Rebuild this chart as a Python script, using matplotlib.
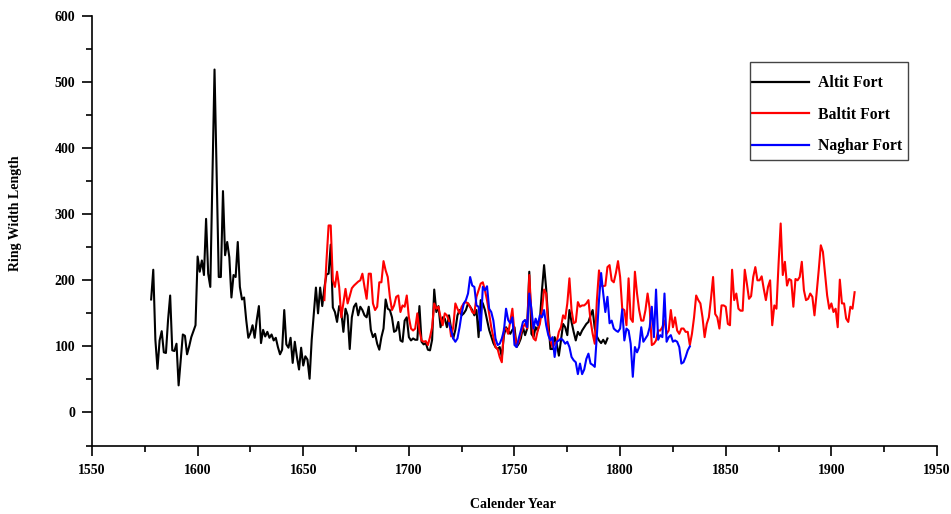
import numpy as np
import matplotlib
matplotlib.use("Agg")
import matplotlib.pyplot as plt
from matplotlib.ticker import MultipleLocator
from matplotlib.patches import Rectangle

# ---------------- data ----------------
altit_start = 1578
altit = [
    171, 216, 110, 66, 109, 123, 91, 90, 140, 177,
    94, 93, 104, 41, 80, 118, 116, 88, 100, 114,
    123, 132, 236, 213, 230, 208, 293, 210, 190, 355,
    519, 360, 205, 205, 335, 238, 258, 235, 174, 208,
    205, 258, 190, 171, 174, 140, 113, 120, 132, 113,
    140, 161, 105, 125, 115, 122, 113, 118, 109, 113,
    99, 88, 95, 155, 103, 98, 113, 75, 107, 84,
    65, 98, 71, 85, 80, 51, 110, 150, 189, 150,
    189, 161, 189, 209, 210, 254, 159, 152, 137, 161,
    152, 122, 157, 147, 96, 144, 160, 165, 147, 160,
    155, 147, 144, 160, 125, 114, 119, 104, 95, 114,
    127, 171, 157, 155, 144, 122, 124, 137, 109, 107,
    139, 144, 114, 109, 112, 110, 110, 161, 107, 103,
    105, 95, 94, 110, 186, 152, 161, 129, 144, 142,
    129, 147, 127, 112, 125, 147, 155, 147, 150, 155,
    165, 160, 155, 147, 155, 114, 170, 165, 155, 140,
    125, 115, 105, 99, 96, 99, 84, 117, 129, 124,
    119, 125, 129, 99, 104, 112, 129, 117, 127, 213,
    119, 114, 129, 124, 139, 185, 223, 187, 139, 96,
    96, 114, 104, 86, 109, 134, 129, 117, 155, 137,
    122, 109, 122, 117, 124, 129, 134, 137, 147, 155,
    127, 115, 109, 105, 110, 104, 112,
]

baltit_start = 1660
baltit = [
    170, 230, 283, 283, 200, 190, 213, 190, 144, 165,
    187, 165, 176, 188, 192, 195, 198, 200, 210, 190,
    172, 210, 210, 165, 155, 160, 197, 197, 229, 215,
    205, 175, 155, 162, 175, 177, 152, 162, 160, 177,
    144, 127, 124, 127, 150, 124, 109, 107, 108, 102,
    114, 129, 165, 157, 160, 144, 132, 150, 147, 139,
    115, 129, 165, 157, 150, 160, 165, 167, 165, 160,
    152, 150, 175, 185, 195, 197, 185, 170, 150, 129,
    114, 99, 96, 84, 76, 127, 127, 119, 138, 157,
    119, 102, 107, 119, 129, 134, 127, 208, 150, 112,
    109, 124, 134, 155, 186, 180, 124, 109, 99, 104,
    107, 122, 129, 147, 142, 165, 203, 155, 135, 137,
    167, 160, 162, 162, 165, 170, 139, 119, 104, 170,
    215, 192, 191, 192, 220, 223, 200, 197, 211, 229,
    205, 157, 155, 132, 203, 142, 137, 213, 180, 155,
    139, 139, 155, 180, 157, 102, 104, 109, 124, 124,
    129, 139, 119, 124, 155, 129, 144, 124, 119, 127,
    127, 122, 122, 102, 119, 144, 177, 170, 165, 144,
    114, 134, 144, 172, 205, 149, 144, 127, 162, 162,
    160, 134, 132, 216, 170, 180, 157, 154, 154, 216,
    195, 172, 176, 205, 220, 200, 200, 206, 187, 170,
    190, 200, 132, 162, 157, 225, 286, 208, 228, 192,
    202, 200, 160, 202, 200, 205, 228, 185, 170, 172,
    180, 175, 147, 180, 215, 253, 243, 210, 177, 157,
    165, 152, 157, 129, 201, 165, 165, 142, 137, 160,
    157, 182,
]

naghar_start = 1719
naghar = [
    135, 124, 112, 107, 112, 129, 150, 165, 170, 180,
    205, 192, 190, 162, 160, 124, 190, 185, 191, 157,
    152, 139, 112, 102, 104, 112, 124, 157, 140, 135,
    144, 102, 99, 112, 124, 137, 140, 129, 180, 157,
    127, 142, 132, 147, 144, 155, 132, 117, 109, 114,
    84, 107, 109, 112, 109, 104, 107, 99, 84, 79,
    76, 58, 74, 58, 65, 81, 89, 74, 72, 69,
    117, 170, 211, 180, 152, 175, 135, 139, 127, 124,
    122, 127, 156, 109, 127, 124, 104, 54, 99, 91,
    99, 129, 107, 112, 117, 129, 160, 114, 186, 110,
    117, 114, 180, 107, 114, 117, 107, 109, 107, 99,
    74, 76, 84, 94, 100,
]

series_names = ["Altit Fort", "Baltit Fort", "Naghar Fort"]
series_colors = ["#000000", "#ff0000", "#0000ff"]
x_ticks = [1550, 1600, 1650, 1700, 1750, 1800, 1850, 1900, 1950]
y_ticks = [0, 100, 200, 300, 400, 500, 600]

# ---------------- figure ----------------
plt.rcParams["font.family"] = ["Liberation Serif", "DejaVu Serif"]
plt.rcParams["font.weight"] = "bold"

W, H = 951, 514
fig = plt.figure(figsize=(W / 100, H / 100), dpi=100)
ax = fig.add_axes([92 / W, 1 - 445.5 / H, (937 - 92) / W, (445.5 - 16) / H])

series = [(altit_start, altit), (baltit_start, baltit), (naghar_start, naghar)]
for (start, vals), name, col in zip(series, series_names, series_colors):
    yrs = np.arange(start, start + len(vals))
    ax.plot(yrs, vals, color=col, lw=1.5, label=name)

ax.set_xlim(1550, 1950)
ax.set_ylim(-50, 600)
ax.set_xticks(x_ticks)
ax.set_yticks(y_ticks)
ax.xaxis.set_minor_locator(MultipleLocator(25))
ax.yaxis.set_minor_locator(MultipleLocator(50))

for s in ["top", "right"]:
    ax.spines[s].set_visible(False)
for s in ["left", "bottom"]:
    ax.spines[s].set_linewidth(1.2)

ax.tick_params(which="major", direction="out", length=7, width=1.2,
               labelsize=10)
ax.tick_params(which="minor", direction="out", length=4.5, width=1.2)
ax.tick_params(axis="x", which="major", pad=6)
ax.tick_params(axis="y", which="major", pad=5)
for lbl in ax.get_xticklabels() + ax.get_yticklabels():
    lbl.set_fontweight("bold")

fig.text(513 / W, 1 - 505 / H, "Calender Year", ha="center", va="center",
         fontsize=10, fontweight="bold")
fig.text(16 / W, 1 - 213 / H, "Ring Width Length", ha="center", va="center",
         rotation=90, fontsize=10, fontweight="bold")

# legend frame drawn separately so the padding can match the reference
fig.patches.append(Rectangle((750 / W, 1 - 160 / H), (908 - 750) / W, (160 - 62) / H,
                             transform=fig.transFigure, fill=False,
                             edgecolor="#444444", linewidth=1.0, zorder=5))
leg = ax.legend(loc="upper left", bbox_to_anchor=(752 / W, 1 - 75 / H),
                bbox_transform=fig.transFigure, frameon=False,
                handlelength=3.65, handletextpad=0.57,
                labelspacing=1.0, borderpad=0, borderaxespad=0,
                prop={"family": "Liberation Serif", "weight": "bold", "size": 11.3})
for line in leg.get_lines():
    line.set_linewidth(1.6)

fig.savefig("out.png", dpi=100, facecolor="white")
